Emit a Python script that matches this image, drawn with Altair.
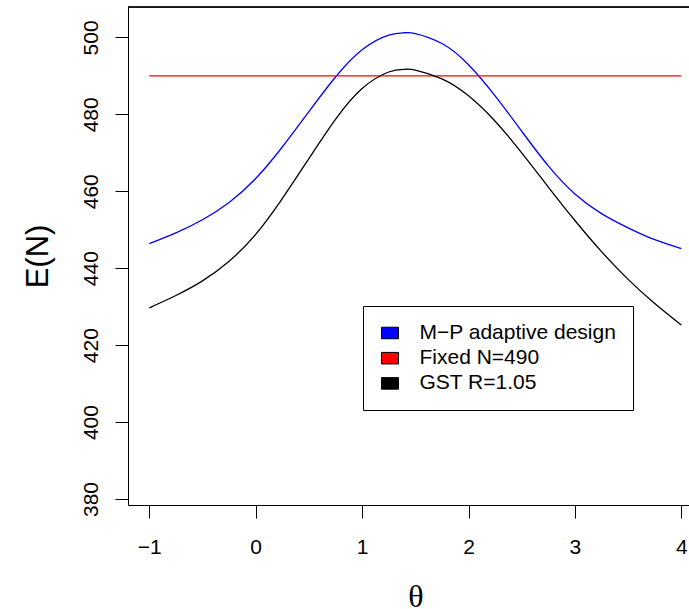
import altair as alt
import pandas as pd

theta = [-1.0, -0.75, -0.5, -0.25, 0.0, 0.25, 0.5, 0.75, 1.0, 1.25, 1.4, 1.5,
         1.75, 2.0, 2.25, 2.5, 2.75, 3.0, 3.25, 3.5, 3.75, 4.0]
mp_adaptive = [446.4, 449.2, 452.6, 457.1, 463.3, 471.5, 480.7, 489.7, 496.8, 500.6, 501.2, 501.0,
               498.4, 492.9, 484.8, 475.6, 466.6, 459.3, 454.2, 450.5, 447.4, 445.1]
gst = [429.7, 432.9, 436.7, 441.8, 448.8, 458.1, 468.5, 478.7, 486.7, 491.0, 491.7, 491.5,
       489.2, 484.8, 478.2, 470.0, 461.1, 452.4, 444.3, 437.1, 430.8, 425.2]
fixed_n = [490.0] * len(theta)

series_names = ["M\u2212P adaptive design", "Fixed N=490", "GST R=1.05"]
series_colors = ["#0000FF", "#FF0000", "#000000"]
x_ticks = [-1, 0, 1, 2, 3, 4]
y_ticks = [380, 400, 420, 440, 460, 480, 500]

rows = []
for name, vals in zip(series_names, [mp_adaptive, fixed_n, gst]):
    for t, v in zip(theta, vals):
        rows.append({"theta": t, "EN": v, "series": name})
df = pd.DataFrame(rows)
legend_df = pd.DataFrame({"series": series_names})

SANS = "Liberation Sans, Arial, sans-serif"
SERIF = "Liberation Serif, Times New Roman, serif"

color_scale = alt.Scale(domain=series_names, range=series_colors)

x_enc = alt.X("theta:Q", scale=alt.Scale(domain=[-1.2, 4.072], nice=False, zero=False),
              axis=alt.Axis(values=x_ticks, title="θ", grid=False, tickSize=13, tickColor="black",
                            tickWidth=1, domainColor="black", domainWidth=1,
                            labelFont=SANS, labelFontSize=21, labelColor="black", labelPadding=18,
                            labelFlush=False, labelOverlap=False,
                            titleFont=SERIF, titleFontSize=32, titleFontWeight="normal",
                            titleColor="black", titleX=287.5, titleY=91, titleBaseline="middle",
                            titleAlign="center"))
y_enc = alt.Y("EN:Q", scale=alt.Scale(domain=[378.44, 507.9], nice=False, zero=False),
              axis=alt.Axis(values=y_ticks, title="E(N)", grid=False, tickSize=13, tickColor="black",
                            tickWidth=1, domainColor="black", domainWidth=1,
                            labelFont=SANS, labelFontSize=21, labelColor="black", labelPadding=13.5,
                            labelAngle=270, labelAlign="center", labelBaseline="bottom",
                            labelFlush=False, labelOverlap=False,
                            titleFont=SANS, titleFontSize=31, titleFontWeight="normal",
                            titleColor="black", titleX=-90, titleY=249, titleAngle=270,
                            titleBaseline="middle", titleAlign="center"))

lines = alt.Chart(df).mark_line(strokeWidth=1.3, interpolate="natural").encode(
    x=x_enc,
    y=y_enc,
    color=alt.Color("series:N", scale=color_scale, legend=None),
    order=alt.Order("theta:Q"),
)

legend_pts = alt.Chart(legend_df).mark_point(filled=True, opacity=0).encode(
    color=alt.Color("series:N", scale=color_scale,
                    legend=alt.Legend(title=None, orient="none", legendX=235, legendY=299,
                                      symbolType="M-1,-0.68H1V0.68H-1Z", symbolSize=289,
                                      symbolStrokeColor="black", symbolStrokeWidth=1,
                                      symbolOpacity=1,
                                      labelFont=SANS, labelFontSize=21, labelColor="black",
                                      labelOffset=19, rowPadding=3.2, padding=16.5,
                                      strokeColor="black", fillColor="white", cornerRadius=0,
                                      labelLimit=400)),
)

top_border = alt.Chart(legend_df).mark_rule(color="black", strokeWidth=1).encode(
    x=alt.value(0), x2=alt.value(561), y=alt.value(0)
)

chart = alt.layer(lines, legend_pts, top_border).resolve_legend(color="independent").properties(
    width=561, height=498,
    autosize=alt.AutoSizeParams(type="none"),
    padding={"left": 128, "top": 7, "right": 0, "bottom": 104},
).configure_view(stroke=None).configure(background="white")

chart.save("out.html", embed_options={"renderer": "svg", "actions": False})
